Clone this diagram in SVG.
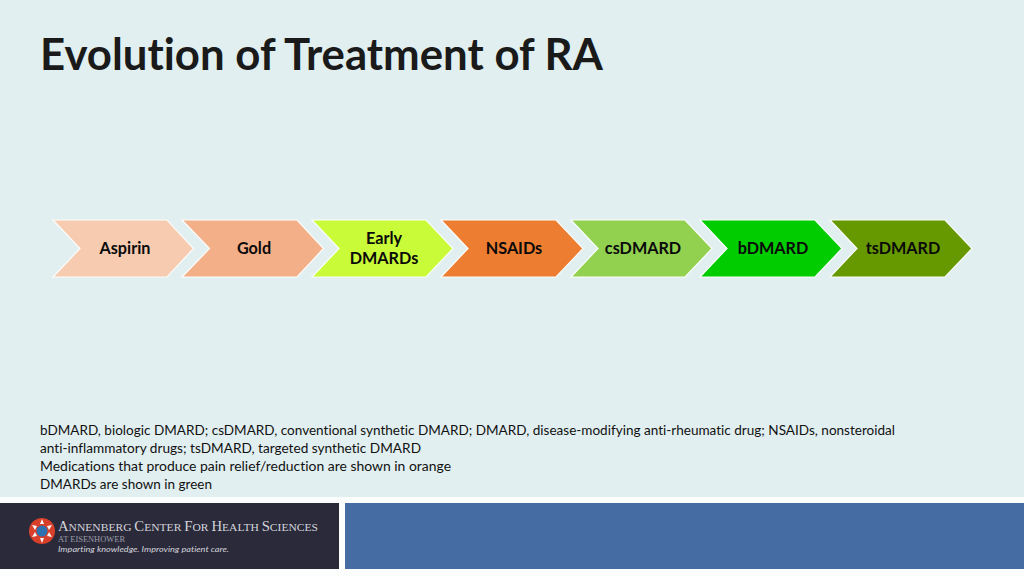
<svg xmlns="http://www.w3.org/2000/svg" width="1024" height="576" viewBox="0 0 1024 576">
<style>
text{font-family:Lato,"Open Sans",sans-serif;fill:#000;font-variant-ligatures:none}
.t{font-size:16.200px;font-weight:700;text-anchor:middle;fill:#0a0a0a}
.n{font-size:13.500px;fill:#111}
.c{stroke:#fbfdfb;stroke-width:1.2;stroke-linejoin:miter}
.l{font-family:"Liberation Serif",serif;fill:#d4d4da}
.s{fill:#f6f6f6}
</style>
<rect width="1024" height="576" fill="#fcfdfd"/>
<rect width="1024" height="497" fill="#e1eff0"/>
<text id="title" x="40" y="70" font-size="44" font-weight="700" style="fill:#1a1a1a" textLength="563" lengthAdjust="spacingAndGlyphs">Evolution of Treatment of RA</text>
<g id="connectors"></g>
<g id="n1"><path class="c" d="M53 220H167L193.500 248.500L167 277H53L80 248.500Z" fill="#f7cbb0"/><text class="t" x="125" y="253.500">Aspirin</text></g>
<g id="n2"><path class="c" d="M182 220H297L323.500 248.500L297 277H182L209.500 248.500Z" fill="#f3b088"/><text class="t" x="254" y="253.500">Gold</text></g>
<g id="n3"><path class="c" d="M312 220H426L453 248.500L426 277H312L339 248.500Z" fill="#c9fb38"/><text class="t" x="384" y="243.500">Early</text><text class="t" x="384" y="263.500">DMARDs</text></g>
<g id="n4"><path class="c" d="M441 220H556L583 248.500L556 277H441L468 248.500Z" fill="#ed7d31"/><text class="t" x="514" y="253.500">NSAIDs</text></g>
<g id="n5"><path class="c" d="M571 220H685L712 248.500L685 277H571L598 248.500Z" fill="#92d050"/><text class="t" x="643" y="253.500">csDMARD</text></g>
<g id="n6"><path class="c" d="M700 220H815L842 248.500L815 277H700L727 248.500Z" fill="#00cc00"/><text class="t" x="773" y="253.500">bDMARD</text></g>
<g id="n7"><path class="c" d="M830 220H945L972 248.500L945 277H830L857 248.500Z" fill="#669900"/><text class="t" x="903" y="253.500">tsDMARD</text></g>
<g id="notes">
<text class="n" x="40" y="435" textLength="855" lengthAdjust="spacingAndGlyphs">bDMARD, biologic DMARD; csDMARD, conventional synthetic DMARD; DMARD, disease-modifying anti-rheumatic drug; NSAIDs, nonsteroidal</text>
<text class="n" x="40" y="453" textLength="381" lengthAdjust="spacingAndGlyphs">anti-inflammatory drugs; tsDMARD, targeted synthetic DMARD</text>
<text class="n" x="40" y="471" textLength="411" lengthAdjust="spacingAndGlyphs">Medications that produce pain relief/reduction are shown in orange</text>
<text class="n" x="40" y="489" textLength="172" lengthAdjust="spacingAndGlyphs">DMARDs are shown in green</text>
</g>
<g id="footer">
<rect x="0" y="503" width="339" height="66" fill="#2a2a3a"/>
<rect x="345" y="503" width="679" height="66" fill="#466ca4"/>
<circle cx="42" cy="531" r="13" fill="#d8402c"/>
<polygon class="s" points="42,519 44,524 40,524"/>
<polygon class="s" points="42,543 44,538 40,538"/>
<polygon class="s" points="32,525 37,526 35,530"/>
<polygon class="s" points="52,525 47,526 49,530"/>
<polygon class="s" points="32,537 37,536 35,532"/>
<polygon class="s" points="52,537 47,536 49,532"/>
<circle cx="42" cy="531" r="5.500" fill="#2c72b0"/>
<text class="l" x="58" y="531" font-size="11" textLength="260" lengthAdjust="spacingAndGlyphs"><tspan font-size="14">A</tspan>NNENBERG <tspan font-size="14">C</tspan>ENTER <tspan font-size="14">F</tspan>OR <tspan font-size="14">H</tspan>EALTH <tspan font-size="14">S</tspan>CIENCES</text>
<text class="l" x="58" y="542" font-size="8" style="fill:#9c9ca8" textLength="67" lengthAdjust="spacingAndGlyphs">AT EISENHOWER</text>
<text x="58" y="552" font-size="8" font-style="italic" style="fill:#d4d4da" textLength="171" lengthAdjust="spacingAndGlyphs">Imparting knowledge. Improving patient care.</text>
</g>
</svg>
